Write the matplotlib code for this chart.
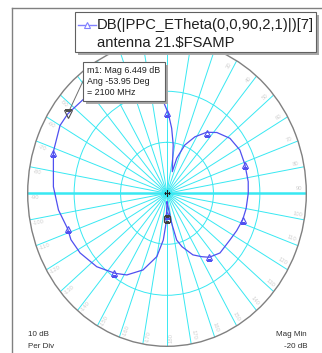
import numpy as np
import matplotlib
matplotlib.use("Agg")
import matplotlib.pyplot as plt
from matplotlib.patches import Rectangle
from matplotlib.lines import Line2D

plt.rcParams['font.family'] = ['Liberation Sans', 'DejaVu Sans']

W, H, DPI = 322, 353, 100

# E-theta pattern trace: angle (deg) and magnitude (dB)
trace_theta = [-180, -178, -175, -170, -161, -151.6, -144.5, -133.6, -122, -113.7,
               -108, -98, -87, -71.5, -60, -53.95, -51.4, -40, -33, -26, -19, -12,
               -6, -2.5, 1, 4.5, 8, 11, 15, 17, 22, 28.5, 35.5, 42, 51.5, 61.6,
               71.3, 82.6, 90, 100, 107.8, 116, 124, 135.7, 144, 149, 155.2,
               162.9, 167.2, 170.2, 180]
trace_db = [-18.3, -14.1, -10.8, -7.4, -4.1, -1.8, -0.73, 0.88, 2.07, 2.6,
            2.5, 3.6, 4.5, 5.8, 6.6, 6.449, 6.2, 5.7, 5.0, 4.1, 3.0, 1.5,
            -0.2, -2.0, -4.3, -7.2, -10.4, -13.7, -15.6, -12.8, -9.8, -7.4, -5.3, -3.96, -2.68, -2.16,
            -2.3, -2.36, -2.5, -2.7, -2.9, -3.3, -3.65, -3.66, -4.5, -5.5, -6.7,
            -9.05, -10.6, -14.0, -18.3]

# trace symbols, one every 36 degrees
symbol_theta = [-144, -108, -72, -36, 0, 36, 72, 108, 144, 180]
symbol_db = [-0.7, 2.4, 5.8, 5.2, -4.3, -5.3, -2.3, -2.9, -4.5, -15.8]

# marker m1
m1_theta = -53.95
m1_db = 6.449
m1_freq_mhz = 2100

# radial scale
mag_min, mag_max, per_div = -20, 10, 10
ring_levels = [-10, 0]
# spoke labels (the ones near the top sit under the legend and readout boxes)
label_angles = [a for a in range(-170, 190, 10) if a not in (-40, -30, -20, -10, 0, 10, 20)]

legend_line1 = "DB(|PPC_ETheta(0,0,90,2,1)|)[7]"
legend_line2 = r"antenna 21.\$FSAMP"

BLUE = '#5050f0'
CYAN = '#38e8f2'


def fx(x):
    return x / W


def fy(y):
    return 1 - y / H


fig = plt.figure(figsize=(W / DPI, H / DPI), dpi=DPI)

# outer frame lines
fig.add_artist(Line2D([fx(11.7), fx(11.7)], [0, fy(8.3)], color='#808080', lw=1.0))
fig.add_artist(Line2D([fx(11.7), 1], [fy(8.3), fy(8.3)], color='#808080', lw=1.0))

cx, cy, rx, ry = 167.0, 193.3, 139.3, 153.0
ax = fig.add_axes([fx(cx - rx), fy(cy + ry), 2 * rx / W, 2 * ry / H], projection='polar')
ax.set_aspect('auto')
ax.set_theta_zero_location('N')
ax.set_theta_direction(-1)
ax.set_ylim(mag_min, mag_max)
ax.set_yticks(ring_levels)
ax.set_yticklabels([])
ax.set_xticks(np.deg2rad(np.arange(0, 360, 10)))
ax.set_xticklabels([])
ax.tick_params(axis='both', length=0)
ax.grid(True, color=CYAN, lw=0.7)
ax.spines['polar'].set_color('#808080')
ax.spines['polar'].set_linewidth(1.0)

# heavier horizontal axis line
for a in (90, -90):
    ax.plot(np.deg2rad([a, a]), [mag_min, mag_max], color=CYAN, lw=1.8, zorder=1.5)

# angle labels along the spokes
r_lab = mag_min + 0.945 * (mag_max - mag_min)
for a in label_angles:
    rot = 90 - a
    while rot > 90:
        rot -= 180
    while rot <= -90:
        rot += 180
    ax.text(np.deg2rad(a - 1.8), r_lab, str(a), rotation=rot, rotation_mode='anchor',
            ha='center', va='center', fontsize=4.2, color='#d0d0d0', zorder=2)

# trace
ax.plot(np.deg2rad(trace_theta), trace_db, color=BLUE, lw=0.9, zorder=3)
ax.plot(np.deg2rad(symbol_theta), symbol_db, ls='none', marker='^', mfc='none',
        mec=BLUE, ms=5, mew=0.8, zorder=4)
ax.plot(np.pi, -14.9, marker='s', mfc='none', mec='#404040', ms=4.2, mew=0.9, zorder=4)

# centre cross
ax.plot(0, mag_min, marker='+', color='#202020', ms=5, mew=0.8, zorder=5)

# marker m1 and leader
ax.plot(np.deg2rad(m1_theta), m1_db, marker='v', mfc='none', mec='#505050', ms=6,
        mew=0.8, zorder=5)
ax.annotate('', xy=(np.deg2rad(m1_theta), m1_db), xytext=(83.5, H - 80),
            textcoords='figure pixels', annotation_clip=False,
            arrowprops=dict(arrowstyle='-', color='#707070', lw=0.7, shrinkA=0, shrinkB=3))


def box(x0, y0, x1, y1, shadow=3):
    fig.add_artist(Rectangle((fx(x0 + shadow), fy(y1 + shadow)), (x1 - x0) / W, (y1 - y0) / H,
                             transform=fig.transFigure, facecolor='#a8a8a8', edgecolor='none',
                             zorder=10))
    fig.add_artist(Rectangle((fx(x0), fy(y1)), (x1 - x0) / W, (y1 - y0) / H,
                             transform=fig.transFigure, facecolor='white', edgecolor='#606060',
                             lw=0.8, zorder=11))


# marker readout box
box(83, 62, 165, 101)
m1_lines = [f"m1: Mag {m1_db:.3f} dB", f"Ang {m1_theta:.2f} Deg", f"= {m1_freq_mhz} MHz"]
for i, t in enumerate(m1_lines):
    fig.text(fx(87), fy(70.7 + i * 11), t, fontsize=6.4, va='center', ha='left',
             color='#202020', zorder=12)

# legend box
box(75, 12, 316, 52)
fig.add_artist(Line2D([fx(78), fx(96)], [fy(25), fy(25)], color='#8080ff', lw=1.0, zorder=12))
fig.add_artist(Line2D([fx(87)], [fy(25)], marker='^', mfc='white', mec='#8080ff', ms=5,
                      mew=0.8, zorder=13))
fig.text(fx(97), fy(25), legend_line1, fontsize=10.6, va='center', ha='left',
         color='#202020', zorder=12)
fig.text(fx(97), fy(43), legend_line2, fontsize=10.6, va='center', ha='left',
         color='#202020', zorder=12)

# scale notes
fig.text(fx(28), fy(334), f"{per_div} dB", fontsize=5.8, va='center', ha='left', color='#303030')
fig.text(fx(28), fy(347), "Per Div", fontsize=5.8, va='center', ha='left', color='#303030')
fig.text(fx(307), fy(334), "Mag Min", fontsize=5.8, va='center', ha='right', color='#303030')
fig.text(fx(307), fy(347), f"{mag_min} dB", fontsize=5.8, va='center', ha='right', color='#303030')

fig.savefig('out.png', dpi=DPI)
